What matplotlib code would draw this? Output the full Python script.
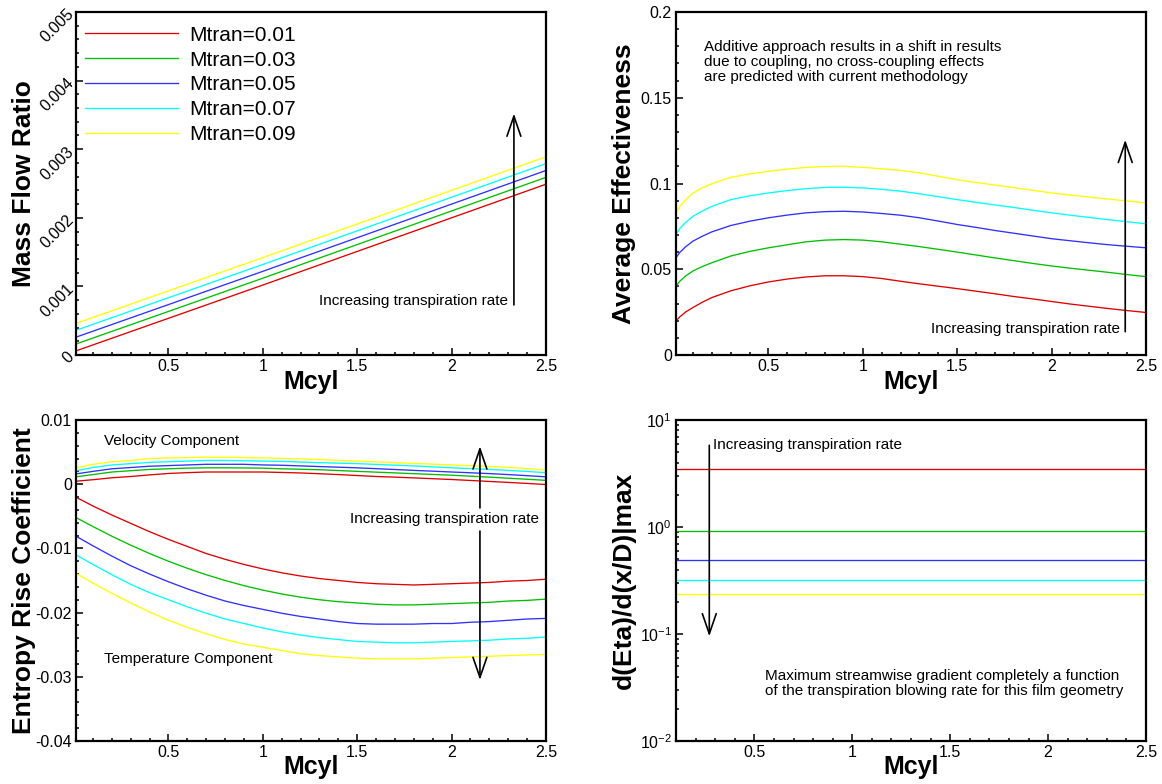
import numpy as np
import matplotlib
matplotlib.use('Agg')
import matplotlib.pyplot as plt
from matplotlib.ticker import MultipleLocator, LogLocator, NullFormatter

plt.rcParams['font.family'] = 'Liberation Sans'
plt.rcParams['axes.unicode_minus'] = False
plt.rcParams['mathtext.default'] = 'regular'

# %%
""" Data """
mtran_labels = ['Mtran=0.01', 'Mtran=0.03', 'Mtran=0.05', 'Mtran=0.07', 'Mtran=0.09']
colors = ['#e00000', '#00c000', '#3030ff', '#00ffff', '#ffff00']

# mass flow ratio vs Mcyl (straight lines)
x_mass = [0.01, 1.0, 2.5]
mass_flow = [
    [0.00006, 0.00102, 0.00249],
    [0.00016, 0.00112, 0.00259],
    [0.00026, 0.00122, 0.00269],
    [0.00036, 0.00132, 0.00279],
    [0.00046, 0.00142, 0.00289],
]

# average effectiveness
x_eff = [0.01, 0.03, 0.06, 0.1, 0.15, 0.2, 0.3, 0.4, 0.5, 0.6, 0.7, 0.8, 0.9, 1.0, 1.1,
         1.2, 1.3, 1.4, 1.5, 1.6, 1.7, 1.8, 1.9, 2.0, 2.1, 2.2, 2.3, 2.4, 2.5]
eff_red    = [0.0199, 0.0222, 0.0250, 0.0277, 0.0308, 0.0335, 0.0374, 0.0403, 0.0426, 0.0443,
              0.0455, 0.0462, 0.0462, 0.0457, 0.0446, 0.0430, 0.0415, 0.0401, 0.0387, 0.0372,
              0.0357, 0.0341, 0.0327, 0.0312, 0.0297, 0.0284, 0.0271, 0.0259, 0.0248]
eff_green  = [0.0403, 0.0430, 0.0460, 0.0490, 0.0516, 0.0538, 0.0577, 0.0604, 0.0625, 0.0643,
              0.0660, 0.0670, 0.0673, 0.0670, 0.0660, 0.0646, 0.0632, 0.0616, 0.0600, 0.0583,
              0.0566, 0.0550, 0.0534, 0.0519, 0.0506, 0.0494, 0.0482, 0.0469, 0.0457]
eff_blue   = [0.0567, 0.0598, 0.0630, 0.0664, 0.0693, 0.0718, 0.0755, 0.0780, 0.0800, 0.0816,
              0.0829, 0.0836, 0.0838, 0.0834, 0.0825, 0.0815, 0.0800, 0.0781, 0.0761, 0.0744,
              0.0726, 0.0710, 0.0694, 0.0678, 0.0666, 0.0654, 0.0643, 0.0634, 0.0625]
eff_cyan   = [0.0703, 0.0738, 0.0772, 0.0809, 0.0840, 0.0867, 0.0906, 0.0928, 0.0945, 0.0959,
              0.0970, 0.0977, 0.0978, 0.0974, 0.0966, 0.0955, 0.0940, 0.0923, 0.0906, 0.0890,
              0.0875, 0.0860, 0.0844, 0.0829, 0.0815, 0.0802, 0.0789, 0.0777, 0.0765]
eff_yellow = [0.0829, 0.0866, 0.0903, 0.0945, 0.0975, 0.0999, 0.1036, 0.1056, 0.1071, 0.1084,
              0.1094, 0.1099, 0.1100, 0.1094, 0.1086, 0.1076, 0.1062, 0.1042, 0.1022, 0.1006,
              0.0991, 0.0976, 0.0960, 0.0945, 0.0932, 0.0921, 0.0909, 0.0898, 0.0887]
effectiveness = [eff_red, eff_green, eff_blue, eff_cyan, eff_yellow]

# entropy rise coefficient, velocity and temperature components
x_ent = [0.01, 0.1, 0.2, 0.3, 0.4, 0.5, 0.6, 0.7, 0.8, 0.9, 1.0, 1.1, 1.2,
         1.3, 1.4, 1.5, 1.6, 1.7, 1.8, 1.9, 2.0, 2.1, 2.2, 2.3, 2.4, 2.5]
vel_red    = [0.00047, 0.0007, 0.0010, 0.0012, 0.00145, 0.00167, 0.0018, 0.0019, 0.0019,
              0.0019, 0.0019, 0.00183, 0.00175, 0.00163, 0.0015, 0.00135, 0.0012, 0.0011,
              0.00098, 0.00086, 0.00073, 0.00058, 0.00043, 0.00028, 0.00012, -0.00005]
vel_green  = [0.00115, 0.0015, 0.0019, 0.0021, 0.0023, 0.0024, 0.0025, 0.00255, 0.00255,
              0.00253, 0.0025, 0.0024, 0.00233, 0.00225, 0.00213, 0.0020, 0.00188, 0.00176,
              0.00164, 0.00152, 0.0014, 0.00125, 0.0011, 0.00093, 0.00077, 0.0006]
vel_blue   = [0.0016, 0.0020, 0.0024, 0.0026, 0.0028, 0.0029, 0.0030, 0.0031, 0.0031,
              0.0031, 0.0030, 0.00295, 0.00285, 0.00275, 0.00265, 0.00255, 0.00242, 0.00229,
              0.00215, 0.00203, 0.0019, 0.00178, 0.00165, 0.0015, 0.00133, 0.00115]
vel_cyan   = [0.0021, 0.0026, 0.0030, 0.0032, 0.0034, 0.0035, 0.0036, 0.0037, 0.0037,
              0.00365, 0.0036, 0.00355, 0.00345, 0.00335, 0.00328, 0.0032, 0.00308, 0.00296,
              0.00284, 0.0027, 0.00255, 0.00243, 0.0023, 0.00215, 0.00198, 0.0018]
vel_yellow = [0.00255, 0.0031, 0.0035, 0.0037, 0.0040, 0.0041, 0.00415, 0.0042, 0.0042,
              0.00415, 0.0041, 0.00403, 0.00395, 0.00385, 0.00372, 0.0036, 0.00348, 0.00336,
              0.00324, 0.00312, 0.0030, 0.00288, 0.00276, 0.00262, 0.00243, 0.0022]
velocity = [vel_red, vel_green, vel_blue, vel_cyan, vel_yellow]

tmp_red    = [-0.00203, -0.0034, -0.0048, -0.0061, -0.0074, -0.0086, -0.0097, -0.0108, -0.0117,
              -0.0125, -0.0132, -0.0138, -0.0143, -0.0147, -0.0150, -0.0153, -0.0155, -0.0156,
              -0.0157, -0.0156, -0.0155, -0.0154, -0.0153, -0.0151, -0.0150, -0.0148]
tmp_green  = [-0.0052, -0.0066, -0.0081, -0.0095, -0.0108, -0.0120, -0.0131, -0.0141, -0.0150,
              -0.0158, -0.0165, -0.0171, -0.0176, -0.0180, -0.0183, -0.0185, -0.0187, -0.0188,
              -0.0188, -0.0187, -0.0186, -0.0185, -0.0184, -0.0182, -0.0181, -0.0179]
tmp_blue   = [-0.0081, -0.0096, -0.0112, -0.0127, -0.0140, -0.0152, -0.0163, -0.0173, -0.0182,
              -0.0189, -0.0195, -0.0201, -0.0206, -0.0210, -0.0214, -0.0217, -0.0218, -0.0218,
              -0.0218, -0.0217, -0.0217, -0.0215, -0.0214, -0.0212, -0.0210, -0.0209]
tmp_cyan   = [-0.0110, -0.0125, -0.0141, -0.0156, -0.0169, -0.0180, -0.0191, -0.0201, -0.0210,
              -0.0217, -0.0224, -0.0230, -0.0235, -0.0239, -0.0242, -0.0245, -0.0246, -0.0247,
              -0.0247, -0.0246, -0.0245, -0.0244, -0.0243, -0.0241, -0.0240, -0.0238]
tmp_yellow = [-0.0139, -0.0154, -0.0170, -0.0185, -0.0199, -0.0212, -0.0223, -0.0233, -0.0242,
              -0.0249, -0.0254, -0.0259, -0.0264, -0.0267, -0.0269, -0.0271, -0.0272, -0.0272,
              -0.0272, -0.0271, -0.0270, -0.0269, -0.0268, -0.0267, -0.0266, -0.0265]
temperature = [tmp_red, tmp_green, tmp_blue, tmp_cyan, tmp_yellow]

# maximum streamwise gradient of effectiveness
x_grad = [0.1, 2.5]
grad_max = [3.5, 0.91, 0.487, 0.318, 0.234]

# %%
""" Plotting """
fig = plt.figure(figsize=(11.62, 7.84), dpi=100)
W, H = 1162, 784
def box(l, r, t, b):
    return [l / W, 1 - b / H, (r - l) / W, (b - t) / H]

ax1 = fig.add_axes(box(76, 546, 12, 355))
ax2 = fig.add_axes(box(676, 1146, 12, 355))
ax3 = fig.add_axes(box(76, 546, 420, 741))
ax4 = fig.add_axes(box(676, 1146, 420, 741))

ylabel_font = dict(fontsize=19, fontweight='bold')
note_font = dict(fontsize=11)
arrow_kw = dict(arrowstyle='->,head_length=1.45,head_width=0.5', lw=1.2,
                color='black', shrinkA=0, shrinkB=0, mutation_scale=10)
lw = 0.95

def style(ax, xmin):
    ax.set_xlim(xmin, 2.5)
    ax.set_xticks([0.5, 1, 1.5, 2, 2.5])
    ax.set_xticklabels(['0.5', '1', '1.5', '2', '2.5'])
    ax.xaxis.set_minor_locator(MultipleLocator(0.1))
    ax.tick_params(which='both', direction='in', top=False, right=False,
                   labelsize=11.5, width=1.1, pad=3)
    ax.tick_params(which='major', length=5)
    ax.tick_params(which='minor', length=2.5)
    for s in ax.spines.values():
        s.set_linewidth(1.6)
    ax.set_xlabel('Mcyl', fontsize=18, fontweight='bold')
    ax.xaxis.set_label_coords(0.5, -0.045)
    ax.yaxis.set_label_coords(-0.085, 0.5)

# mass flow ratio
for y, c, lab in zip(mass_flow, colors, mtran_labels):
    ax1.plot(x_mass, y, color=c, lw=lw, label=lab)
style(ax1, 0.01)
ax1.set_ylim(0, 0.005)
ax1.set_yticks([0, 0.001, 0.002, 0.003, 0.004, 0.005])
ax1.set_yticklabels(['0', '0.001', '0.002', '0.003', '0.004', '0.005'],
                    rotation=45, ha='right', va='center', rotation_mode='anchor')
ax1.yaxis.set_minor_locator(MultipleLocator(0.0002))
ax1.set_ylabel('Mass Flow Ratio', **ylabel_font)
ax1.legend(loc='upper left', bbox_to_anchor=(0.019, 0.96), frameon=False,
           fontsize=15, handlelength=4.45, handletextpad=0.57,
           labelspacing=0.28, borderpad=0, borderaxespad=0)
ax1.annotate('', xy=(2.33, 0.00352), xytext=(2.33, 0.00073), arrowprops=arrow_kw)
ax1.text(2.30, 0.00079, 'Increasing transpiration rate', ha='right', va='center', **note_font)

# average effectiveness
for y, c in zip(effectiveness, colors):
    ax2.plot(x_eff, y, color=c, lw=lw)
style(ax2, 0.01)
ax2.set_ylim(0, 0.2)
ax2.set_yticks([0, 0.05, 0.1, 0.15, 0.2])
ax2.set_yticklabels(['0', '0.05', '0.1', '0.15', '0.2'])
ax2.yaxis.set_minor_locator(MultipleLocator(0.01))
ax2.set_ylabel('Average Effectiveness', **ylabel_font)
ax2.text(0.16, 0.1835, 'Additive approach results in a shift in results\n'
         'due to coupling, no cross-coupling effects\n'
         'are predicted with current methodology',
         ha='left', va='top', linespacing=1.06, **note_font)
ax2.annotate('', xy=(2.39, 0.1255), xytext=(2.39, 0.0136), arrowprops=arrow_kw)
ax2.text(2.36, 0.0151, 'Increasing transpiration rate', ha='right', va='center', **note_font)

# entropy rise coefficient
for yv, yt, c in zip(velocity, temperature, colors):
    ax3.plot(x_ent, yv, color=c, lw=lw)
    ax3.plot(x_ent, yt, color=c, lw=lw)
style(ax3, 0.01)
ax3.set_ylim(-0.04, 0.01)
ax3.set_yticks([-0.04, -0.03, -0.02, -0.01, 0, 0.01])
ax3.set_yticklabels(['-0.04', '-0.03', '-0.02', '-0.01', '0', '0.01'])
ax3.yaxis.set_minor_locator(MultipleLocator(0.002))
ax3.set_ylabel('Entropy Rise Coefficient', **ylabel_font)
ax3.text(0.16, 0.0068, 'Velocity Component', ha='left', va='center', **note_font)
ax3.text(0.16, -0.0272, 'Temperature Component', ha='left', va='center', **note_font)
ax3.text(1.96, -0.0054, 'Increasing transpiration rate', ha='center', va='center', **note_font)
ax3.annotate('', xy=(2.15, 0.0059), xytext=(2.15, -0.0037), arrowprops=arrow_kw)
ax3.annotate('', xy=(2.15, -0.0305), xytext=(2.15, -0.0073), arrowprops=arrow_kw)

# maximum effectiveness gradient
for g, c in zip(grad_max, colors):
    ax4.plot(x_grad, [g, g], color=c, lw=lw)
style(ax4, 0.1)
ax4.set_yscale('log')
ax4.set_ylim(0.01, 10)
ax4.yaxis.set_major_locator(LogLocator(base=10, numticks=10))
ax4.yaxis.set_minor_locator(LogLocator(base=10, subs=np.arange(2, 10), numticks=10))
ax4.yaxis.set_minor_formatter(NullFormatter())
ax4.tick_params(which='both', direction='in', top=False, right=False)
ax4.set_ylabel('d(Eta)/d(x/D)|max', **ylabel_font)
ax4.annotate('', xy=(0.27, 0.095), xytext=(0.27, 5.8), arrowprops=arrow_kw)
ax4.text(0.29, 5.9, 'Increasing transpiration rate', ha='left', va='center', **note_font)
ax4.text(0.555, 0.0345, 'Maximum streamwise gradient completely a function\n'
         'of the transpiration blowing rate for this film geometry',
         ha='left', va='center', linespacing=1.06, **note_font)

fig.savefig('out.png', dpi=100)
